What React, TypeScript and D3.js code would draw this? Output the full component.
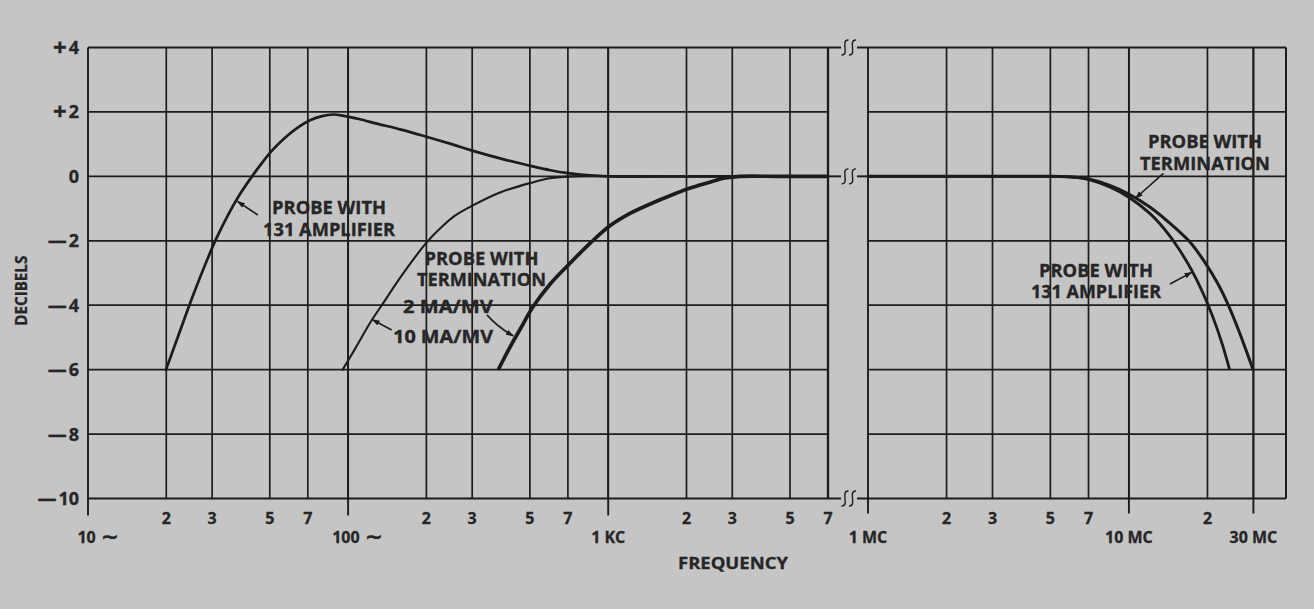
import React from "react";
import * as d3 from "d3";

// ---------- data ----------
const dbTicks = [4, 2, 0, -2, -4, -6, -8, -10];
const dbTickSign = ["+", "+", "", "—", "—", "—", "—", "—"];
const dbTickDigits = ["4", "2", "0", "2", "4", "6", "8", "10"];
const dbGridInner = [2, 0, -2, -4, -6, -8];

// left panel (Hz)
const leftGridFreqs = [20, 30, 50, 70, 100, 200, 300, 500, 700, 1000, 2000, 3000, 5000];
const leftMinorValues = [20, 30, 50, 70, 200, 300, 500, 700, 2000, 3000, 5000, 7000];
const leftMinorText = ["2", "3", "5", "7", "2", "3", "5", "7", "2", "3", "5", "7"];
const leftDecadeValues = [10, 100, 1000];
const leftDecadeNum = ["10", "100", "1 KC"];
const leftDecadeSuffix = ["∼", "∼", ""];

// right panel (MHz)
const rightGridFreqs = [2, 3, 5, 7, 10, 20, 30];
const rightMinorValues = [2, 3, 5, 7, 20];
const rightMinorText = ["2", "3", "5", "7", "2"];
const rightDecadeValues = [1, 10, 30];
const rightDecadeText = ["1 MC", "10 MC", "30 MC"];

// curves: [frequency, dB]
const ampLeft: [number, number][] = [
  [19.95, -6], [22.58, -4.8], [25.33, -3.7], [28.18, -2.75], [31.06, -1.95], [34.53, -1.2],
  [38.41, -0.55], [42.72, 0], [46.67, 0.42], [50.97, 0.8], [57.2, 1.2], [64.2, 1.52],
  [71.4, 1.74], [79.4, 1.87], [87.5, 1.92], [97.3, 1.87], [110, 1.78], [130, 1.63],
  [160, 1.45], [200, 1.23], [250, 1.0], [300, 0.8], [400, 0.52], [500, 0.33], [600, 0.19],
  [700, 0.1], [850, 0.03], [1000, 0], [2500, 0], [7000, 0],
];
const term2Left: [number, number][] = [
  [95.3, -6], [107.3, -5.3], [121.4, -4.55], [138.7, -3.85], [158.4, -3.15], [200.5, -2.05],
  [225.6, -1.62], [257.6, -1.22], [302, -0.9], [383.7, -0.5], [505, -0.2], [597, -0.06],
  [745, 0], [2000, 0], [7000, 0],
];
const term10Left: [number, number][] = [
  [378, -6], [419.3, -5.3], [462.1, -4.7], [513.9, -4.05], [597.4, -3.35], [702.6, -2.75],
  [851.1, -2.08], [1009.7, -1.55], [1212.7, -1.15], [1486.6, -0.82], [1728.5, -0.6],
  [2003.5, -0.4], [2253.5, -0.27], [2529, -0.15], [2812, -0.05], [3211, 0], [4500, 0], [7000, 0],
];
const ampRight: [number, number][] = [
  [1, 0], [2.5, 0], [4, 0], [5.07, 0], [5.74, -0.01], [6.21, -0.03], [7.02, -0.1], [8.45, -0.33],
  [9.99, -0.65], [12.02, -1.15], [13.72, -1.65], [15.39, -2.2], [17.36, -2.9], [19.17, -3.6],
  [20.94, -4.35], [22.67, -5.15], [24.32, -6],
];
const termRight: [number, number][] = [
  [1, 0], [2.5, 0], [4, 0], [5.07, 0], [5.74, -0.01], [6.21, -0.03], [7.02, -0.08], [8.45, -0.28],
  [9.99, -0.55], [12.02, -0.95], [14.34, -1.45], [17.1, -2.03], [19.52, -2.66], [21.88, -3.32],
  [24.11, -4.02], [26.1, -4.7], [28.01, -5.36], [29.92, -6],
];

// annotations (data coordinates)
const annLeftAmp = { f: 84.5, db: -1.17, lines: ["PROBE WITH", "131 AMPLIFIER"], widths: [114, 132] };
const annLeftTerm = { f: 325.7, db: -2.75, lines: ["PROBE WITH", "TERMINATION"], widths: [114, 129] };
const ann2ma = { f: 242, db: -4.24, text: "2 MA/MV", width: 90 };
const ann10ma = { f: 231.8, db: -5.18, text: "10 MA/MV", width: 100 };
const annRightTerm = { f: 19.57, db: 0.87, lines: ["PROBE WITH", "TERMINATION"], widths: [114, 130] };
const annRightAmp = { f: 7.48, db: -3.11, lines: ["PROBE WITH", "131 AMPLIFIER"], widths: [114, 130] };
const arrowLeftAmp = { from: [45.0, -1.2], to: [37.6, -0.78] };
const arrow10 = { from: [147.1, -4.77], to: [124, -4.45] };
const arrow2 = { from: [342, -4.3], to: [431.5, -4.95] };
const arrowRightTerm = { from: [13.55, 0.095], to: [10.6, -0.68] };
const arrowRightAmp = { from: [14.37, -3.34], to: [17.4, -2.98] };

// ---------- drawing ----------
const W = 1314;
const H = 609;
const INK = "#1c1c1c";
const TXT = "#262626";
const FONT = "'Open Sans', 'DejaVu Sans', sans-serif";

export default function App() {
  const y = d3.scaleLinear().domain([4, -10]).range([47.5, 498.5]);
  const xL = d3.scaleLog().domain([10, 7000]).range([88, 828]);
  const xR = d3.scaleLog().domain([1, 40]).range([868, 1286]);

  const smooth = d3.curveCatmullRom.alpha(0.5);
  const lineL = d3.line<[number, number]>().x((d) => xL(d[0])).y((d) => y(d[1])).curve(smooth);
  const lineR = d3.line<[number, number]>().x((d) => xR(d[0])).y((d) => y(d[1])).curve(smooth);

  const yTop = y(4);
  const yBot = y(-10);
  const yZero = y(0);
  const tickEnd = yBot + 17;
  const lx0 = xL(10), lx1 = xL(7000), rx0 = xR(1), rx1 = xR(40);

  const squig = (cx: number, cy: number) =>
    `M${cx + 3.5},${cy - 7.5} C${cx - 5},${cy - 8} ${cx + 5},${cy + 8} ${cx - 3.5},${cy + 7.5}`;

  const breakAt = (yy: number, key: string) => (
    <g key={key}>
      <line x1={lx1} x2={lx1 + 13} y1={yy} y2={yy} stroke={INK} strokeWidth={2} />
      <path d={squig(lx1 + 17, yy)} fill="none" stroke={INK} strokeWidth={1.4} />
      <path d={squig(lx1 + 24.5, yy)} fill="none" stroke={INK} strokeWidth={1.4} />
      <line x1={lx1 + 29} x2={rx0} y1={yy} y2={yy} stroke={INK} strokeWidth={2} />
    </g>
  );

  const block = (
    ann: { lines: string[]; widths: number[] },
    cx: number,
    by: number,
    key: string
  ) => (
    <g key={key}>
      {ann.lines.map((t, i) => (
        <text
          key={i}
          x={cx}
          y={by + i * 21.5}
          textAnchor="middle"
          fontFamily={FONT}
          fontWeight={700}
          fontSize={17.5}
          fill={TXT}
          stroke={TXT}
          strokeWidth={0.35}
          textLength={ann.widths[i]}
          lengthAdjust="spacingAndGlyphs"
        >
          {t}
        </text>
      ))}
    </g>
  );

  const arrowPath = (a: { from: number[]; to: number[] }, sx: (v: number) => number, bend = 0) => {
    const x1 = sx(a.from[0]), y1 = y(a.from[1]);
    const x2 = sx(a.to[0]), y2 = y(a.to[1]);
    if (!bend) return `M${x1},${y1} L${x2},${y2}`;
    const mx = (x1 + x2) / 2, my = (y1 + y2) / 2;
    const dx = x2 - x1, dy = y2 - y1;
    const len = Math.hypot(dx, dy);
    const qx = mx - (dy / len) * bend, qy = my + (dx / len) * bend;
    return `M${x1},${y1} Q${qx},${qy} ${x2},${y2}`;
  };

  const tickText = { fontFamily: FONT, fontWeight: 700, fontSize: 16, fill: TXT, stroke: TXT, strokeWidth: 0.3 };

  return (
    <svg
      width={W}
      height={H}
      viewBox={`0 0 ${W} ${H}`}
      style={{ position: "absolute", left: 0, top: 0, display: "block" }}
    >
      <defs>
        <marker id="ah" viewBox="0 0 10 10" refX="9" refY="5" markerWidth="8" markerHeight="8" markerUnits="userSpaceOnUse" orient="auto">
          <path d="M0,1.5 L10,5 L0,8.5 Z" fill={INK} />
        </marker>
      </defs>
      <rect x={0} y={0} width={W} height={H} fill="#c5c5c5" />

      {/* horizontal grid */}
      {dbGridInner.map((d) => (
        <g key={"h" + d}>
          <line x1={lx0} x2={lx1} y1={y(d)} y2={y(d)} stroke={INK} strokeWidth={1.7} />
          <line x1={rx0} x2={rx1} y1={y(d)} y2={y(d)} stroke={INK} strokeWidth={1.7} />
        </g>
      ))}
      {/* vertical grid */}
      {leftGridFreqs.map((f) => (
        <line key={"vl" + f} x1={xL(f)} x2={xL(f)} y1={yTop} y2={yBot} stroke={INK} strokeWidth={1.7} />
      ))}
      {rightGridFreqs.map((f) => (
        <line key={"vr" + f} x1={xR(f)} x2={xR(f)} y1={yTop} y2={yBot} stroke={INK} strokeWidth={1.7} />
      ))}
      {/* decade ticks below */}
      {leftDecadeValues.map((f) => (
        <line key={"dl" + f} x1={xL(f)} x2={xL(f)} y1={yTop} y2={tickEnd} stroke={INK} strokeWidth={1.9} />
      ))}
      {rightDecadeValues.map((f) => (
        <line key={"dr" + f} x1={xR(f)} x2={xR(f)} y1={yTop} y2={tickEnd - 2} stroke={INK} strokeWidth={1.9} />
      ))}
      {/* frames */}
      <line x1={lx0} x2={lx1} y1={yTop} y2={yTop} stroke={INK} strokeWidth={2} />
      <line x1={lx0} x2={lx1} y1={yBot} y2={yBot} stroke={INK} strokeWidth={2} />
      <line x1={lx1} x2={lx1} y1={yTop} y2={yBot} stroke={INK} strokeWidth={2.3} />
      <line x1={rx0} x2={rx1} y1={yTop} y2={yTop} stroke={INK} strokeWidth={2} />
      <line x1={rx0} x2={rx1} y1={yBot} y2={yBot} stroke={INK} strokeWidth={2} />
      <line x1={rx1} x2={rx1} y1={yTop} y2={yBot} stroke={INK} strokeWidth={2} />
      {breakAt(yTop, "bt")}
      {breakAt(yZero, "bz")}
      {breakAt(yBot, "bb")}

      {/* curves */}
      <path d={lineL(ampLeft) || ""} fill="none" stroke={INK} strokeWidth={2.7} strokeLinecap="round" />
      <path d={lineL(term2Left) || ""} fill="none" stroke={INK} strokeWidth={2.1} strokeLinecap="round" />
      <path d={lineL(term10Left) || ""} fill="none" stroke={INK} strokeWidth={3.7} />
      <path d={lineR(ampRight) || ""} fill="none" stroke={INK} strokeWidth={2.8} />
      <path d={lineR(termRight) || ""} fill="none" stroke={INK} strokeWidth={3} />

      {/* y tick labels */}
      {dbTicks.map((d, i) => (
        <text key={"yt" + d} x={79} y={y(d) + 6.5} textAnchor="end" {...tickText} fontSize={18}>
          {dbTickSign[i] ? <tspan fontSize={dbTickSign[i] === "+" ? 24 : 19} dy={dbTickSign[i] === "+" ? 1.5 : 0}>{dbTickSign[i]}</tspan> : null}
          <tspan dx={dbTickSign[i] ? 2 : 0} dy={dbTickSign[i] === "+" ? -1.5 : 0}>{dbTickDigits[i]}</tspan>
        </text>
      ))}
      <text
        transform={`translate(27,${y(-3.55)}) rotate(-90)`}
        textAnchor="middle"
        {...tickText}
        fontSize={16}
        textLength={70}
        lengthAdjust="spacingAndGlyphs"
      >
        DECIBELS
      </text>

      {/* x tick labels */}
      {leftMinorValues.map((f, i) => (
        <text key={"lm" + f} x={xL(f)} y={yBot + 25} textAnchor="middle" {...tickText}>
          {leftMinorText[i]}
        </text>
      ))}
      {leftDecadeValues.map((f, i) => (
        <text key={"ld" + f} x={xL(f)} y={yBot + 44} textAnchor={leftDecadeSuffix[i] ? "start" : "middle"} dx={leftDecadeSuffix[i] ? -(leftDecadeNum[i].length * 5.3) : 0} {...tickText}>
          {leftDecadeNum[i]}
          {leftDecadeSuffix[i] ? <tspan fontFamily="'DejaVu Sans', sans-serif" fontSize={22} dx={5} dy={1}>{leftDecadeSuffix[i]}</tspan> : null}
        </text>
      ))}
      {rightMinorValues.map((f, i) => (
        <text key={"rm" + f} x={xR(f)} y={yBot + 25} textAnchor="middle" {...tickText}>
          {rightMinorText[i]}
        </text>
      ))}
      {rightDecadeValues.map((f, i) => (
        <text key={"rd" + f} x={xR(f)} y={yBot + 44} textAnchor="middle" {...tickText}>
          {rightDecadeText[i]}
        </text>
      ))}
      <text x={733} y={569} textAnchor="middle" {...tickText} fontSize={15.5} textLength={110} lengthAdjust="spacingAndGlyphs">
        FREQUENCY
      </text>

      {/* annotations */}
      {block(annLeftAmp, xL(annLeftAmp.f), y(annLeftAmp.db), "a1")}
      {block(annLeftTerm, xL(annLeftTerm.f), y(annLeftTerm.db), "a2")}
      <text x={xL(ann2ma.f)} y={y(ann2ma.db)} textAnchor="middle" fontFamily={FONT} fontWeight={700} fontSize={17.5} fill={TXT} stroke={TXT} strokeWidth={0.35} textLength={ann2ma.width} lengthAdjust="spacingAndGlyphs">
        {ann2ma.text}
      </text>
      <text x={xL(ann10ma.f)} y={y(ann10ma.db)} textAnchor="middle" fontFamily={FONT} fontWeight={700} fontSize={17.5} fill={TXT} stroke={TXT} strokeWidth={0.35} textLength={ann10ma.width} lengthAdjust="spacingAndGlyphs">
        {ann10ma.text}
      </text>
      {block(annRightTerm, xR(annRightTerm.f), y(annRightTerm.db), "a3")}
      {block(annRightAmp, xR(annRightAmp.f), y(annRightAmp.db), "a4")}

      <path d={arrowPath(arrowLeftAmp, xL)} fill="none" stroke={INK} strokeWidth={1.6} markerEnd="url(#ah)" />
      <path d={arrowPath(arrow10, xL)} fill="none" stroke={INK} strokeWidth={1.6} markerEnd="url(#ah)" />
      <path d={arrowPath(arrow2, xL, 3)} fill="none" stroke={INK} strokeWidth={1.6} markerEnd="url(#ah)" />
      <path d={arrowPath(arrowRightTerm, xR)} fill="none" stroke={INK} strokeWidth={1.6} markerEnd="url(#ah)" />
      <path d={arrowPath(arrowRightAmp, xR)} fill="none" stroke={INK} strokeWidth={1.6} markerEnd="url(#ah)" />
    </svg>
  );
}
